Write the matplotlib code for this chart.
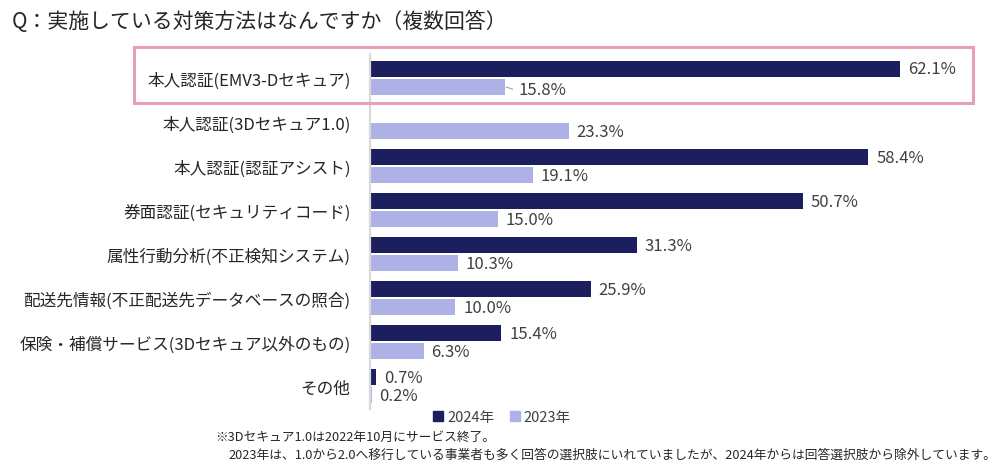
import numpy as np
import matplotlib.pyplot as plt
from matplotlib.patches import Rectangle

plt.rcParams['font.family'] = ['Noto Sans CJK JP', 'DejaVu Sans']

categories = [
    "本人認証(EMV3-Dセキュア)",
    "本人認証(3Dセキュア1.0)",
    "本人認証(認証アシスト)",
    "券面認証(セキュリティコード)",
    "属性行動分析(不正検知システム)",
    "配送先情報(不正配送先データベースの照合)",
    "保険・補償サービス(3Dセキュア以外のもの)",
    "その他",
]
v2024 = [62.1, None, 58.4, 50.7, 31.3, 25.9, 15.4, 0.7]
v2023 = [15.8, 23.3, 19.1, 15.0, 10.3, 10.0, 6.3, 0.2]

dark = "#1b1f5e"
light = "#aeb1e5"

W, H = 1000, 464
fig = plt.figure(figsize=(W / 100, H / 100), dpi=100)

# axes placed in pixel terms: x 370..970, y 55..410
ax = fig.add_axes([370 / W, 1 - 410 / H, 600 / W, 355 / H])
ax.set_xlim(0, 600 / 8.535)
ax.set_ylim(7.52, -0.545)

y = np.arange(len(categories))
off = 0.2045
bh = 0.364

for i, (a, b) in enumerate(zip(v2024, v2023)):
    if a is not None:
        ax.barh(y[i] - off, a, height=bh, color=dark)
        ax.text(a + 0.9, y[i] - off, f"{a:.1f}%", va="center", ha="left",
                fontsize=12, color="#404040")
    ax.barh(y[i] + off, b, height=bh, color=light)
    if i == 0:
        # small leader line to the label
        ax.plot([b + 0.15, b + 0.9], [y[i] + off, y[i] + off + 0.05],
                color="#a6a6a6", lw=0.8)
        ax.text(b + 1.6, y[i] + off + 0.05, f"{b:.1f}%", va="center", ha="left",
                fontsize=12, color="#404040")
    else:
        ax.text(b + 0.9, y[i] + off, f"{b:.1f}%", va="center", ha="left",
                fontsize=12, color="#404040")

ax.set_yticks(y)
ax.set_yticklabels(categories, fontsize=12, color="#262626")
ax.tick_params(axis="y", length=0, pad=14)
ax.set_xticks([])
for s in ["top", "right", "bottom"]:
    ax.spines[s].set_visible(False)
ax.spines["left"].set_color("#d9d9d9")
ax.spines["left"].set_linewidth(1.6)

fig.text(12 / W, 1 - 22 / H, "Q：実施している対策方法はなんですか（複数回答）",
         fontsize=15, va="center", ha="left", color="#262626")

# highlight frame around the first row
fig.patches.append(Rectangle((134 / W, 1 - 104 / H), (973 - 134) / W, 56 / H,
                             transform=fig.transFigure, fill=False,
                             edgecolor="#e9a0b3", linewidth=2.2))

h1 = plt.Line2D([], [], marker="s", ls="", color=dark, markersize=7)
h2 = plt.Line2D([], [], marker="s", ls="", color=light, markersize=7)
fig.legend([h1, h2], ["2024年", "2023年"], loc="center",
           bbox_to_anchor=(500 / W, 1 - 418 / H), ncol=2, frameon=False,
           fontsize=10.5, handletextpad=0.0, columnspacing=0.8,
           handlelength=1.2, labelcolor="#404040")

fig.text(215 / W, 1 - 437 / H, "※3Dセキュア1.0は2022年10月にサービス終了。",
         fontsize=9.2, va="center", ha="left", color="#262626")
fig.text(228 / W, 1 - 455 / H,
         "2023年は、1.0から2.0へ移行している事業者も多く回答の選択肢にいれていましたが、2024年からは回答選択肢から除外しています。",
         fontsize=9.2, va="center", ha="left", color="#262626")

fig.savefig("out.png", dpi=100)
